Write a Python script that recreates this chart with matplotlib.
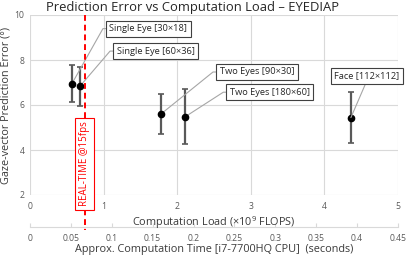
import matplotlib
matplotlib.use("Agg")
import matplotlib.pyplot as plt
import matplotlib.transforms as mtransforms

# ---- data ----
labels = ["Single Eye [30×18]", "Single Eye [60×36]", "Two Eyes [90×30]",
          "Two Eyes [180×60]", "Face [112×112]"]
flops = [0.57, 0.68, 1.78, 2.11, 4.36]          # x10^9 FLOPS
errors = [6.95, 6.84, 5.60, 5.48, 5.44]         # degrees
err_sd = [0.81, 0.87, 0.89, 1.22, 1.15]
sec_per_gflop = 0.09                              # seconds per 10^9 FLOPS (secondary axis)
realtime_sec = 1 / 15                             # 15 fps
y_ticks = [2, 4, 6, 8, 10]
x_ticks = [0, 1, 2, 3, 4, 5]
sec_ticks = [0, 0.05, 0.1, 0.15, 0.2, 0.25, 0.3, 0.35, 0.4, 0.45]

# label box offsets in pixels (layout)
box_off = [(34, 55), (33, 35), (55, 42), (41, 24.5), (16, 41.5)]

FONT = "Open Sans"
plt.rcParams["font.family"] = [FONT, "DejaVu Sans"]
plt.rcParams["mathtext.fontset"] = "custom"
plt.rcParams["mathtext.rm"] = FONT
grid_c = "#d9d9d9"
txt_c = "#595959"
lab_c = "#3a3a3a"
LFS = 6.7

fig = plt.figure(figsize=(4.16, 2.56), dpi=100)
W, H = 416, 256
ax = fig.add_axes([30 / W, (H - 195) / H, (398 - 30) / W, (195 - 15) / H])
ax.set_xlim(0, 5)
ax.set_ylim(2, 10)
ax.set_xticks(x_ticks)
ax.set_yticks(y_ticks)
for s in ax.spines.values():
    s.set_visible(False)
ax.grid(True, color=grid_c, lw=0.8)
ax.set_axisbelow(True)
ax.tick_params(length=0, labelsize=6.2, labelcolor=txt_c)
ax.tick_params(axis="x", pad=5)
ax.tick_params(axis="y", pad=4)
ax.set_xlabel("Computation Load (×10$^{9}$ FLOPS)", fontsize=7.8, color=lab_c, labelpad=2.5)
ax.set_ylabel("Gaze-vector Prediction Error (°)", fontsize=7.8, color=lab_c, labelpad=2)
fig.text(193 / W, (H - 8) / H, "Prediction Error vs Computation Load – EYEDIAP",
         fontsize=9.4, color="#262626", ha="center", va="center")

# secondary axis (seconds)
sec = ax.secondary_xaxis("bottom", functions=(lambda x: x * sec_per_gflop,
                                               lambda s: s / sec_per_gflop))
sec.set_xticks(sec_ticks)
sec.set_xticklabels([f"{t:g}" for t in sec_ticks])
sec.spines["bottom"].set_position(("outward", 32 * 0.72))
sec.spines["bottom"].set_color(grid_c)
sec.tick_params(direction="in", length=3, color=grid_c, labelsize=6.2,
                labelcolor=txt_c, pad=5)
sec.set_xlabel("Approx. Computation Time [i7-7700HQ CPU]  (seconds)", fontsize=7.8,
               color=lab_c, labelpad=1)

# error bars and points
ax.errorbar(flops, errors, yerr=err_sd, fmt="none", ecolor="#595959", elinewidth=1.6,
            capsize=2.5, capthick=1.2, zorder=3)
ax.plot(flops, errors, "o", color="black", ms=4.5, zorder=4)

# real-time line
rt_x = realtime_sec / sec_per_gflop
blend = mtransforms.blended_transform_factory(ax.transData, ax.transAxes)
ax.plot([rt_x, rt_x], [1, -35 / 180], transform=blend, color="#ff0000", ls=(0, (3, 2)),
        lw=1.4, clip_on=False, zorder=5)
ax.text(rt_x, (195 - 164) / 180, "REAL-TIME @15fps", transform=blend, rotation=90,
        ha="center", va="center", fontsize=7.0, color="#ff0000", zorder=6, clip_on=False,
        bbox=dict(boxstyle="square,pad=0.4", fc="white", ec="#ff0000", lw=0.8))

# labels with leader lines
k = 0.72  # px -> pt
for i, (lab, x, y) in enumerate(zip(labels, flops, errors)):
    dx, dy = box_off[i]
    pt = mtransforms.Affine2D().scale(fig.dpi / 72) + mtransforms.ScaledTranslation(x, y, ax.transData)
    if i < 4:
        ax.plot([0, (dx - 3) * k, dx * k], [0, dy * k, dy * k], transform=pt,
                color="#a6a6a6", lw=0.8, zorder=3)
        pad = 0.38
        ax.annotate(lab, xy=(x, y), xytext=(dx * k + pad * LFS, dy * k),
                    textcoords="offset points", ha="left", va="center", fontsize=LFS,
                    color="#262626", zorder=6,
                    bbox=dict(boxstyle=f"square,pad={pad}", fc="white", ec="#404040", lw=0.8))
    else:
        ax.annotate(lab, xy=(x, y), xytext=(dx * k, dy * k),
                    textcoords="offset points", ha="center", va="center", fontsize=LFS,
                    color="#262626", zorder=6,
                    bbox=dict(boxstyle="square,pad=0.38", fc="white", ec="#404040", lw=0.8),
                    arrowprops=dict(arrowstyle="-", color="#a6a6a6", lw=0.8,
                                    shrinkA=0, shrinkB=0, relpos=(0.5, 0)))

fig.savefig("out.png", dpi=100)
